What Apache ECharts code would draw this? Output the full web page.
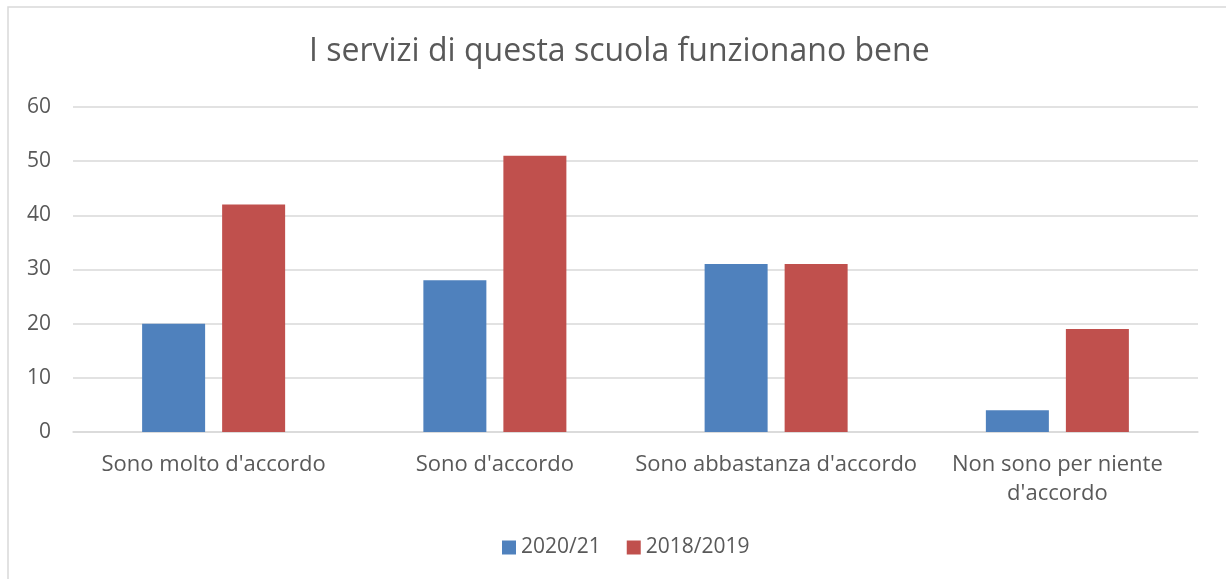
<!DOCTYPE html>
<html>
<head>
<meta charset="utf-8">
<script src="https://cdn.jsdelivr.net/npm/echarts@6/dist/echarts.min.js"></script>
<style>
  html, body { margin: 0; padding: 0; background: #fff; }
  #chart { width: 1226px; height: 579px; }
</style>
</head>
<body>
<div id="chart"></div>
<script>
const categories = ['Sono molto d\'accordo', 'Sono d\'accordo', 'Sono abbastanza d\'accordo', 'Non sono per niente\nd\'accordo'];
const seriesNames = ['2020/21', '2018/2019'];
const values2021 = [20, 28, 31, 4];
const values2019 = [42, 51, 31, 19];
const yTicks = { min: 0, max: 60, interval: 10 };

const font = 'Open Sans';
const textColor = '#595959';

let myChart = echarts.init(document.getElementById('chart'));
let option = {
    backgroundColor: '#fff',
    textStyle: { fontFamily: font },
    title: {
        text: 'I servizi di questa scuola funzionano bene',
        left: 304,
        top: 31,
        textStyle: { fontSize: 32, fontWeight: 'normal', color: textColor, fontFamily: font }
    },
    graphic: [{
        type: 'rect',
        shape: { x: 8, y: 7, width: 1240, height: 600 },
        style: { fill: 'none', stroke: '#d9d9d9', lineWidth: 1.5 },
        silent: true
    }],
    legend: {
        bottom: 16,
        left: 497,
        itemWidth: 14,
        itemHeight: 14,
        itemGap: 26,
        icon: 'rect',
        textStyle: { fontSize: 21, color: textColor, fontFamily: font },
        data: seriesNames
    },
    grid: { left: 73, right: 28, top: 107, bottom: 147, containLabel: false },
    xAxis: {
        type: 'category',
        data: categories,
        axisLine: { lineStyle: { color: '#d9d9d9', width: 1.5 } },
        axisTick: { show: false },
        axisLabel: { fontSize: 22, color: textColor, margin: 18, lineHeight: 29, interval: 0, fontFamily: font }
    },
    yAxis: {
        type: 'value',
        min: yTicks.min,
        max: yTicks.max,
        interval: yTicks.interval,
        axisLine: { show: false },
        axisTick: { show: false },
        axisLabel: { fontSize: 21, color: textColor, margin: 22, fontFamily: font },
        splitLine: { lineStyle: { color: '#d9d9d9', width: 1.5 } }
    },
    series: [
        {
            name: seriesNames[0],
            type: 'bar',
            data: values2021,
            barWidth: 63,
            barGap: '27%',
            itemStyle: { color: '#4F81BD' }
        },
        {
            name: seriesNames[1],
            type: 'bar',
            data: values2019,
            barWidth: 63,
            barGap: '27%',
            itemStyle: { color: '#C0504D' }
        }
    ]
};
myChart.setOption(option);
</script>
</body>
</html>
